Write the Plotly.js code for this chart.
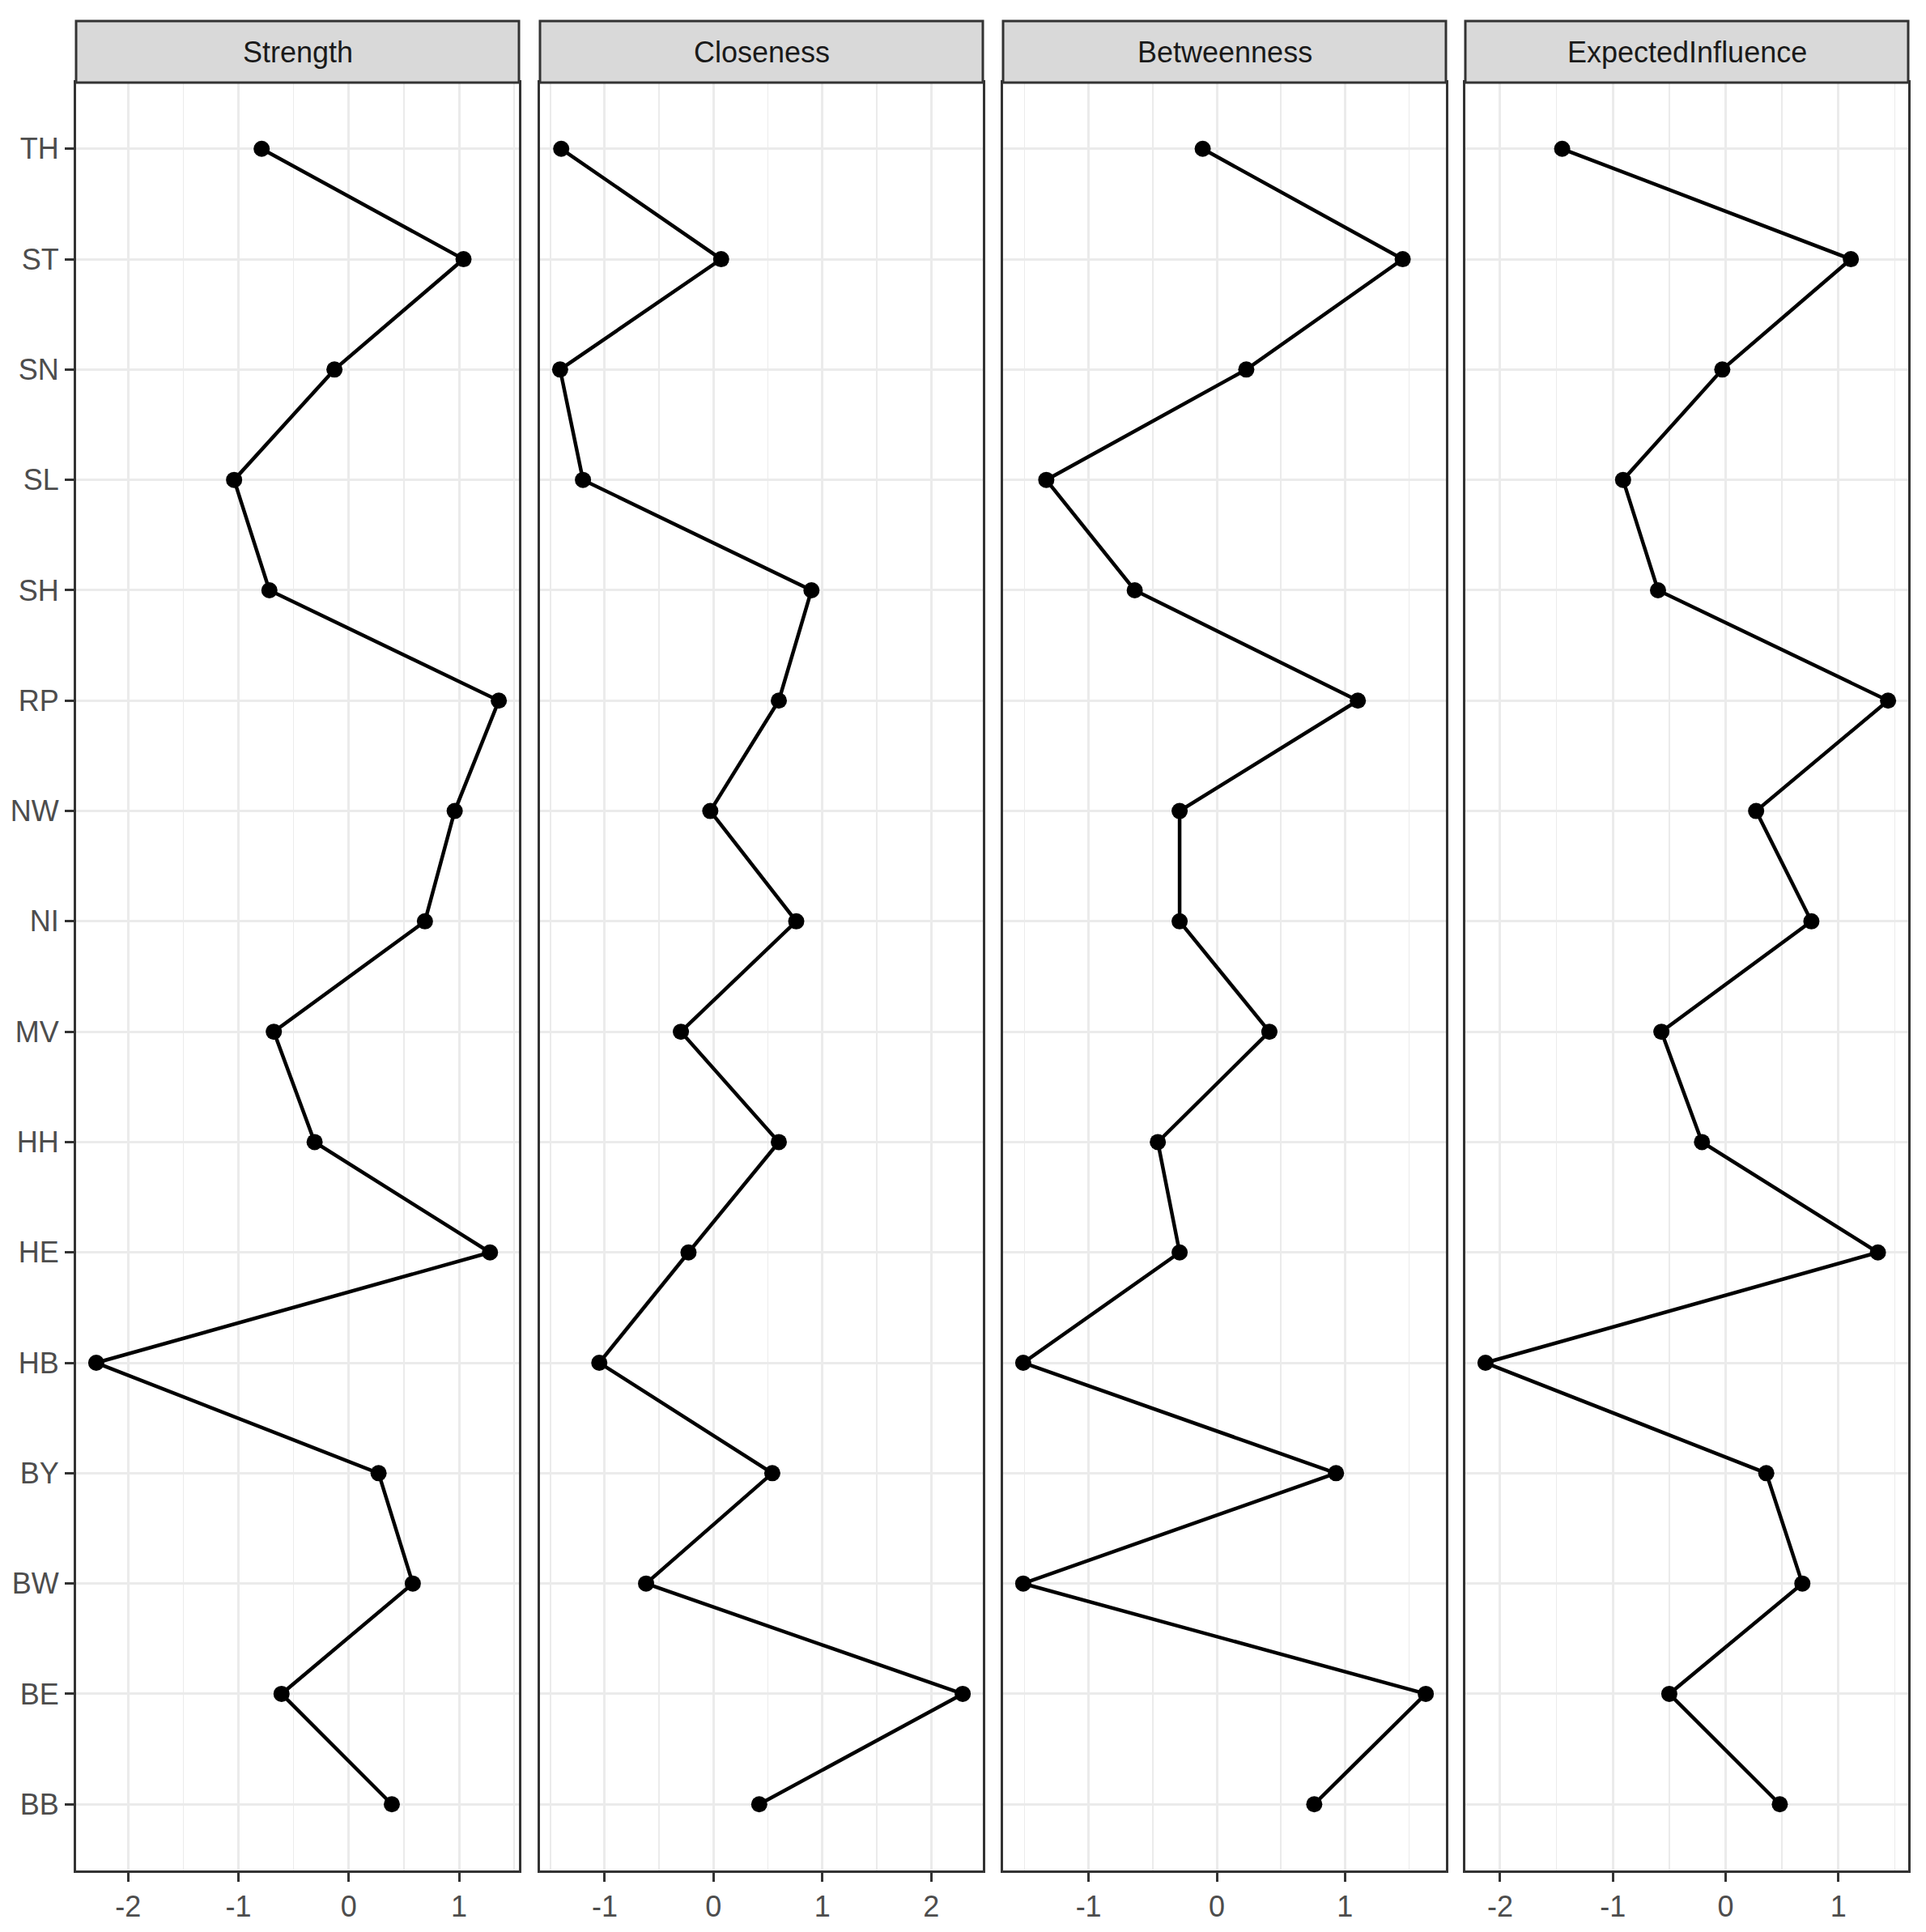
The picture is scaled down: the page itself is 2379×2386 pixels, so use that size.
<!DOCTYPE html>
<html>
<head>
<meta charset="utf-8">
<script src="https://cdn.plot.ly/plotly-3.0.1.min.js"></script>
<style>
  body { margin: 0; background: #ffffff; }
  #chart { width: 2379px; height: 2386px; }
</style>
</head>
<body>
<div id="chart"></div>
<script>
// node labels, top to bottom as drawn
const nodes = ["TH", "ST", "SN", "SL", "SH", "RP", "NW", "NI", "MV", "HH", "HE", "HB", "BY", "BW", "BE", "BB"];
const measures = ["Strength", "Closeness", "Betweenness", "ExpectedInfluence"];

// standardized centrality values (same order as nodes)
const strength = [-0.79, 1.04, -0.13, -1.04, -0.72, 1.36, 0.96, 0.69, -0.68, -0.31, 1.28, -2.29, 0.27, 0.58, -0.61, 0.39];
const closeness = [-1.40, 0.07, -1.41, -1.20, 0.90, 0.60, -0.03, 0.76, -0.30, 0.60, -0.23, -1.05, 0.54, -0.62, 2.29, 0.42];
const betweenness = [-0.11, 1.45, 0.23, -1.33, -0.64, 1.10, -0.29, -0.29, 0.41, -0.46, -0.29, -1.51, 0.93, -1.51, 1.63, 0.76];
const expectedInfluence = [-1.45, 1.11, -0.03, -0.91, -0.60, 1.44, 0.27, 0.76, -0.57, -0.21, 1.35, -2.13, 0.36, 0.68, -0.50, 0.48];

const series = [strength, closeness, betweenness, expectedInfluence];

// x tick values / labels per panel (plain hyphen minus like the original)
const tickVals = [[-2, -1, 0, 1], [-1, 0, 1, 2], [-1, 0, 1], [-2, -1, 0, 1]];
const tickText = [["-2", "-1", "0", "1"], ["-1", "0", "1", "2"], ["-1", "0", "1"], ["-2", "-1", "0", "1"]];

const W = 2379, H = 2386;
// panel edges in pixels
const panelLeft = [94, 667, 1239, 1810];
const panelWidth = 547;
const panelTop = 102, panelBottom = 2310, stripTop = 26;

const yBottom = 1 - panelBottom / H;
const yTop = 1 - panelTop / H;
const stripY1 = 1 - stripTop / H;

const tickFont = {family: "Liberation Sans, Arial, sans-serif", size: 36, color: "#4D4D4D"};

let traces = [];
let layout = {
    width: W,
    height: H,
    margin: {l: 0, r: 0, t: 0, b: 0},
    paper_bgcolor: "#ffffff",
    plot_bgcolor: "#ffffff",
    showlegend: false,
    shapes: [],
    annotations: []
};

for (let i = 0; i < 4; i++) {
    let suffix = i == 0 ? "" : String(i + 1);
    let vals = series[i];
    let lo = Math.min(...vals), hi = Math.max(...vals);
    let pad = (hi - lo) * 0.05;

    traces.push({
        x: vals,
        y: nodes,
        xaxis: "x" + suffix,
        yaxis: "y" + suffix,
        type: "scatter",
        mode: "lines+markers",
        line: {color: "#000000", width: 4.5},
        marker: {color: "#000000", size: 20},
        cliponaxis: false,
        hoverinfo: "x+y"
    });

    let x0 = panelLeft[i] / W, x1 = (panelLeft[i] + panelWidth) / W;

    layout["xaxis" + suffix] = {
        domain: [x0, x1],
        anchor: "y" + suffix,
        range: [lo - pad, hi + pad],
        tickmode: "array",
        tickvals: tickVals[i],
        ticktext: tickText[i],
        zeroline: false,
        showgrid: true,
        gridcolor: "#EBEBEB",
        gridwidth: 3,
        minor: {tickmode: "linear", dtick: 0.5, tick0: 0.5, showgrid: true, gridcolor: "#EBEBEB", gridwidth: 1.5, ticks: ""},
        ticks: "outside",
        ticklen: 11,
        tickwidth: 3,
        tickcolor: "#333333",
        tickfont: tickFont,
        showline: true,
        mirror: true,
        linecolor: "#333333",
        linewidth: 3
    };

    layout["yaxis" + suffix] = {
        domain: [yBottom, yTop],
        anchor: "x" + suffix,
        type: "category",
        categoryorder: "array",
        categoryarray: nodes.slice().reverse(),
        range: [-0.6, 15.6],
        showgrid: true,
        gridcolor: "#EBEBEB",
        gridwidth: 3,
        zeroline: false,
        ticks: i == 0 ? "outside" : "",
        ticklen: 11,
        tickwidth: 3,
        tickcolor: "#333333",
        showticklabels: i == 0,
        tickfont: tickFont,
        showline: true,
        mirror: true,
        linecolor: "#333333",
        linewidth: 3
    };

    // facet strip
    layout.shapes.push({
        type: "rect",
        xref: "paper", yref: "paper",
        x0: x0, x1: x1, y0: yTop, y1: stripY1,
        fillcolor: "#D9D9D9",
        line: {color: "#333333", width: 3},
        layer: "above"
    });
    layout.annotations.push({
        xref: "paper", yref: "paper",
        x: (x0 + x1) / 2, y: (yTop + stripY1) / 2,
        text: measures[i],
        showarrow: false,
        xanchor: "center", yanchor: "middle",
        font: {family: "Liberation Sans, Arial, sans-serif", size: 36, color: "#1A1A1A"}
    });
}

Plotly.newPlot("chart", traces, layout, {staticPlot: true});
</script>
</body>
</html>
